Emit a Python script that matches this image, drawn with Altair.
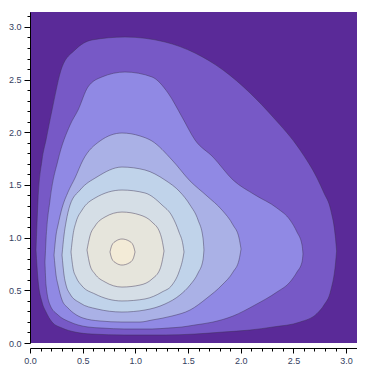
import altair as alt
import pandas as pd

# ---- axis ranges and ticks ----
X_MAX = 3.1036   # visible part of the 0..pi range (right edge is cropped in the picture)
Y_MAX = 3.14159
TICKS = [0.0, 0.1, 0.2, 0.3, 0.4, 0.5, 0.6, 0.7, 0.8, 0.9, 1.0, 1.1, 1.2, 1.3, 1.4, 1.5,
         1.6, 1.7, 1.8, 1.9, 2.0, 2.1, 2.2, 2.3, 2.4, 2.5, 2.6, 2.7, 2.8, 2.9, 3.0, 3.1]

# ---- contour outlines (x, upper y, lower y) ----
c1_x = [0.057, 0.076, 0.114, 0.152, 0.209, 0.304, 0.427, 0.588, 0.902, 1.281, 1.566, 1.832,
        2.088, 2.306, 2.563, 2.724, 2.790, 2.855, 2.900, 2.910]
c1_hi = [0.883, 1.357, 1.737, 1.927, 2.211, 2.619, 2.781, 2.876, 2.904, 2.857, 2.752, 2.591,
         2.373, 2.145, 1.832, 1.566, 1.424, 1.260, 0.990, 0.873]
c1_lo = [0.883, 0.598, 0.389, 0.294, 0.199, 0.142, 0.104, 0.085, 0.076, 0.076, 0.085, 0.104,
         0.123, 0.152, 0.199, 0.280, 0.360, 0.500, 0.760, 0.873]

c2_x = [0.142, 0.152, 0.190, 0.266, 0.380, 0.456, 0.550, 0.683, 0.902, 1.158, 1.310, 1.443,
        1.566, 1.737, 1.927, 2.136, 2.344, 2.468, 2.534, 2.582, 2.591]
c2_hi = [0.769, 0.978, 1.357, 1.737, 2.069, 2.211, 2.430, 2.525, 2.572, 2.525, 2.373, 2.145,
         1.927, 1.765, 1.547, 1.405, 1.281, 1.167, 1.053, 0.930, 0.845]
c2_lo = [0.769, 0.550, 0.361, 0.266, 0.199, 0.171, 0.152, 0.142, 0.133, 0.133, 0.142, 0.152,
         0.171, 0.199, 0.256, 0.361, 0.484, 0.579, 0.674, 0.769, 0.845]

c3_x = [0.228, 0.247, 0.266, 0.304, 0.361, 0.427, 0.503, 0.664, 0.873, 1.044, 1.158, 1.348,
        1.519, 1.680, 1.822, 1.927, 1.984, 2.003]
c3_hi = [0.835, 1.025, 1.120, 1.281, 1.433, 1.566, 1.737, 1.917, 1.993, 1.965, 1.917, 1.737,
         1.538, 1.395, 1.262, 1.120, 0.997, 0.892]
c3_lo = [0.835, 0.645, 0.550, 0.408, 0.332, 0.275, 0.237, 0.209, 0.199, 0.199, 0.218, 0.256,
         0.313, 0.427, 0.550, 0.674, 0.788, 0.892]

c4_x = [0.304, 0.323, 0.342, 0.380, 0.475, 0.636, 0.873, 1.091, 1.281, 1.424, 1.519, 1.595,
        1.642, 1.651]
c4_hi = [0.835, 1.025, 1.148, 1.310, 1.452, 1.576, 1.670, 1.642, 1.547, 1.433, 1.310, 1.167,
         0.997, 0.883]
c4_lo = [0.835, 0.645, 0.550, 0.465, 0.380, 0.323, 0.294, 0.313, 0.370, 0.456, 0.550, 0.664,
         0.788, 0.883]

c5_x = [0.389, 0.408, 0.437, 0.494, 0.617, 0.873, 1.091, 1.253, 1.348, 1.414, 1.452, 1.462]
c5_hi = [0.864, 1.025, 1.148, 1.262, 1.376, 1.452, 1.424, 1.310, 1.205, 1.053, 0.930, 0.864]
c5_lo = [0.864, 0.712, 0.626, 0.541, 0.465, 0.399, 0.418, 0.484, 0.550, 0.674, 0.807, 0.864]

c6_x = [0.541, 0.569, 0.617, 0.712, 0.873, 1.044, 1.158, 1.234, 1.253, 1.272]
c6_hi = [0.883, 1.016, 1.110, 1.196, 1.243, 1.215, 1.148, 1.044, 0.978, 0.873]
c6_lo = [0.883, 0.740, 0.655, 0.579, 0.531, 0.550, 0.607, 0.702, 0.769, 0.873]

c7_x = [0.759, 0.778, 0.816, 0.873, 0.940, 0.978, 0.997]
c7_hi = [0.864, 0.930, 0.968, 0.987, 0.968, 0.930, 0.864]
c7_lo = [0.864, 0.797, 0.759, 0.740, 0.759, 0.797, 0.864]

BACKGROUND = "#5a2a98"
BAND_COLORS = ["#7759c6", "#9089e4", "#aab1e6", "#c0d3ea", "#d5dee6", "#e6e5dc", "#f3ebd7"]

contours = [
    (c1_x, c1_hi, c1_lo),
    (c2_x, c2_hi, c2_lo),
    (c3_x, c3_hi, c3_lo),
    (c4_x, c4_hi, c4_lo),
    (c5_x, c5_hi, c5_lo),
    (c6_x, c6_hi, c6_lo),
    (c7_x, c7_hi, c7_lo),
]

major_test = "round(datum.value * 10) % 5 == 0"
label_expr = f"{major_test} ? format(datum.value, '.1f') : ''"

x_axis = alt.Axis(
    values=TICKS, labelExpr=label_expr, title=None, grid=False,
    offset=5, domainColor="#000000", domainWidth=1,
    tickColor="#000000", tickWidth=1,
    tickSize={"condition": {"test": major_test, "value": 5}, "value": 3},
    labelPadding=3, labelFontSize=9, labelFont="Liberation Sans",
    labelColor="#34405e", labelFlush=False, labelOverlap=False,
)
y_axis = alt.Axis(
    values=TICKS, labelExpr=label_expr, title=None, grid=False,
    offset=0, domainColor="#000000", domainWidth=1,
    tickColor="#000000", tickWidth=1,
    tickSize={"condition": {"test": major_test, "value": 6}, "value": 3},
    labelPadding=3, labelFontSize=9, labelFont="Liberation Sans",
    labelColor="#34405e", labelFlush=False, labelOverlap=False,
)
x_scale = alt.Scale(domain=[0, X_MAX], nice=False, zero=False)
y_scale = alt.Scale(domain=[0, Y_MAX], nice=False, zero=False)

layers = []
for (xs, his, los), col in zip(contours, BAND_COLORS):
    df = pd.DataFrame({"x": xs, "hi": his, "lo": los})
    layers.append(
        alt.Chart(df).mark_area(
            fill=col, stroke="#3b3052", strokeWidth=0.9, strokeOpacity=0.5,
            interpolate="monotone", opacity=1,
        ).encode(
            x=alt.X("x:Q", scale=x_scale, axis=x_axis),
            y=alt.Y("lo:Q", scale=y_scale, axis=y_axis),
            y2="hi:Q",
        )
    )

chart = alt.layer(*layers).properties(
    width=327, height=331,
    autosize=alt.AutoSizeParams(type="none"),
    padding={"left": 22, "top": 4, "right": 0, "bottom": 24},
    background="#ffffff",
).configure_view(fill=BACKGROUND, stroke=None)

chart.save("out.html", embed_options={"renderer": "svg", "actions": False})
